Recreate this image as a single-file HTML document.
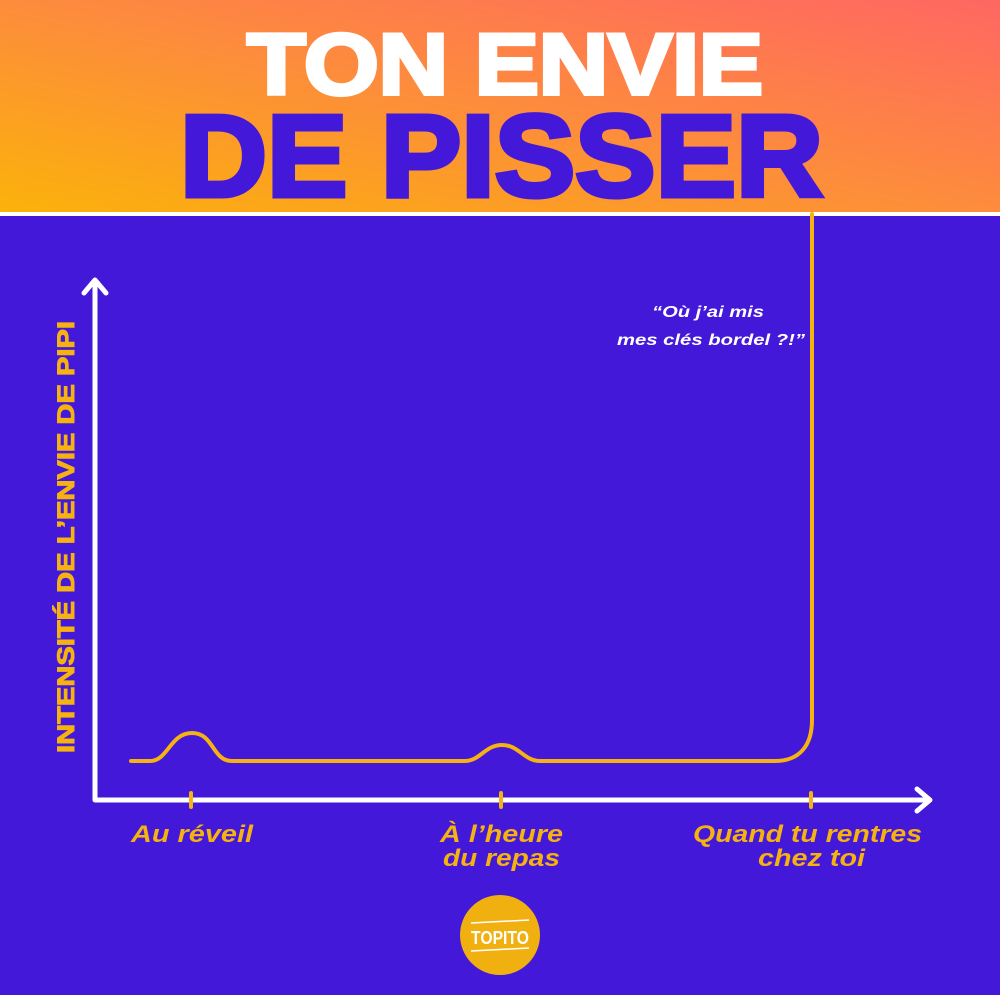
<!DOCTYPE html>
<html><head><meta charset="utf-8"><style>
html,body{margin:0;padding:0;}
body{width:1000px;height:995px;overflow:hidden;background:#4318D9;}
svg{display:block}
</style></head><body>
<svg width="1000" height="995" viewBox="0 0 1000 995" xmlns="http://www.w3.org/2000/svg">
<defs>
<linearGradient id="g" x1="0" y1="1" x2="1" y2="0">
<stop offset="0" stop-color="#FBB20A"/>
<stop offset="0.5" stop-color="#FD8C3C"/>
<stop offset="1" stop-color="#FF6762"/>
</linearGradient>
</defs>
<rect x="0" y="0" width="1000" height="995" fill="#4318D9"/>
<rect x="0" y="0" width="1000" height="212" fill="url(#g)"/>
<rect x="0" y="212" width="1000" height="4" fill="#ffffff"/>
<g font-family="Liberation Sans, sans-serif" font-weight="900" text-anchor="start">
<text x="247" y="94" font-size="86" fill="#fff" textLength="516" lengthAdjust="spacingAndGlyphs" stroke="#fff" stroke-width="4">TON ENVIE</text>
<text x="180" y="196" font-size="116" fill="#4318D9" textLength="643" lengthAdjust="spacingAndGlyphs" stroke="#4318D9" stroke-width="5">DE PISSER</text>
</g>
<g stroke="#fff" stroke-width="5" fill="none" stroke-linecap="round" stroke-linejoin="round">
<path d="M95 282 V800 H928"/>
<path d="M84 293 L95 280 L106 293"/>
<path d="M917 789 L930 800 L917 811"/>
</g>
<g stroke="#F5B210" stroke-width="4" stroke-linecap="round">
<line x1="191" y1="793" x2="191" y2="807"/>
<line x1="501" y1="793" x2="501" y2="807"/>
<line x1="811" y1="793" x2="811" y2="807"/>
</g>
<path d="M131 761 H150 C168 761 170 733 192 733 C214 733 212 761 232 761 H465 C480 761 485 745 502 745 C519 745 524 761 540 761 H775 C800 761 812 745 812 720 V214" stroke="#F5B210" stroke-width="4" fill="none" stroke-linecap="round"/>
<text transform="translate(74,537) rotate(-90)" font-family="Liberation Sans, sans-serif" font-weight="bold" font-size="24" fill="#F5B210" stroke="#F5B210" stroke-width="1" text-anchor="middle" textLength="432" lengthAdjust="spacingAndGlyphs">INTENSITÉ DE L’ENVIE DE PIPI</text>
<g font-family="Liberation Sans, sans-serif" font-style="italic" font-weight="bold" fill="#fff" font-size="16" text-anchor="start" lengthAdjust="spacingAndGlyphs">
<text x="652" y="317" textLength="112" lengthAdjust="spacingAndGlyphs">“Où j’ai mis</text>
<text x="617" y="345" textLength="188" lengthAdjust="spacingAndGlyphs">mes clés bordel ?!”</text>
</g>
<g font-family="Liberation Sans, sans-serif" font-style="italic" font-weight="bold" fill="#F5B210" font-size="24" text-anchor="start">
<text x="131" y="842" textLength="122" lengthAdjust="spacingAndGlyphs">Au réveil</text>
<text x="440" y="842" textLength="123" lengthAdjust="spacingAndGlyphs">À l’heure</text>
<text x="443" y="866" textLength="117" lengthAdjust="spacingAndGlyphs">du repas</text>
<text x="693" y="842" textLength="229" lengthAdjust="spacingAndGlyphs">Quand tu rentres</text>
<text x="758" y="866" textLength="107" lengthAdjust="spacingAndGlyphs">chez toi</text>
</g>
<circle cx="500" cy="935" r="40" fill="#F0B010"/>
<line x1="471" y1="923" x2="529" y2="920" stroke="#fff" stroke-width="1.5"/>
<line x1="471" y1="951" x2="529" y2="948" stroke="#fff" stroke-width="1.5"/>
<text x="500" y="944" font-family="Liberation Sans, sans-serif" font-weight="bold" font-size="18" fill="#fff" text-anchor="middle" textLength="58" lengthAdjust="spacingAndGlyphs">TOPITO</text>
</svg>
</body></html>
